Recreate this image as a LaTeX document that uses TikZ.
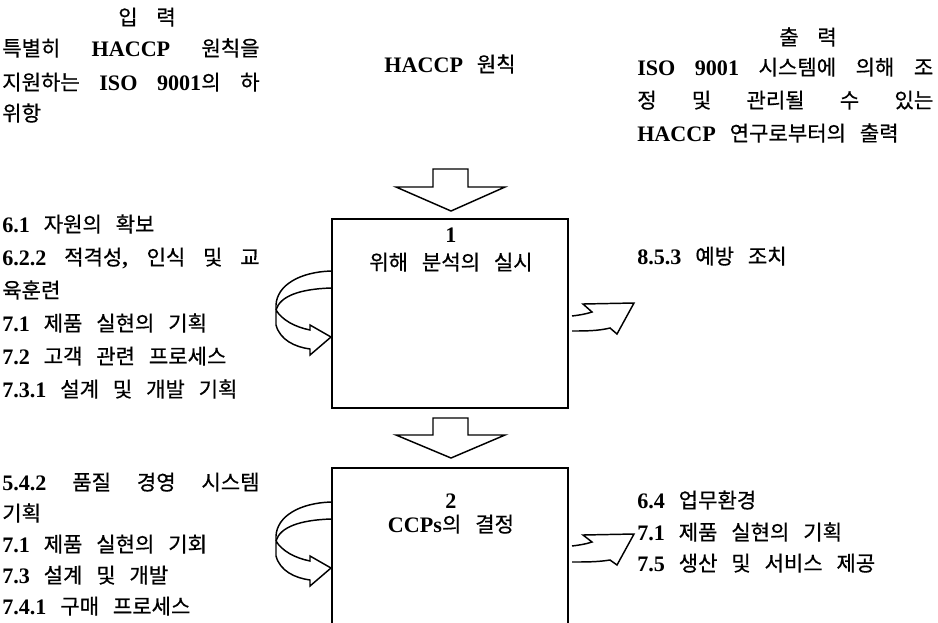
\documentclass[tikz,border=0pt]{standalone}
\usepackage{fontspec}
\setmainfont{Liberation Serif}[WordSpace=2.5, Scale=1.05]
\newfontfamily\krfont{Noto Sans CJK KR}[RawFeature={embolden=0.6}]
\newcommand\K[1]{{\krfont\mdseries #1}}
\newcommand\jl[2]{\makebox[#1][s]{#2}}
\tikzset{
  txt/.style={inner sep=0pt, anchor=base west, font=\fontsize{15.8}{18}\selectfont\bfseries},
  ctxt/.style={txt, anchor=base},
  procbox/.style={draw, line width=1.3pt, inner sep=0pt},
  arrowshape/.style={draw, line width=1.1pt, line join=miter}
}
\begin{document}
\begin{tikzpicture}[x=0.75pt,y=-0.75pt]
\useasboundingbox (0,0) rectangle (938,622);
% headers
\node[ctxt] (inhead) at (147,25) {\K{입}\hspace{14pt}\K{력}};
\node[txt] (in1) at (2,56) {\jl{193pt}{\K{특별히} HACCP \K{원칙을}}};
\node[txt] (in2) at (2,90) {\jl{193pt}{\K{지원하는} ISO 9001\K{의} \K{하}}};
\node[txt] (in3) at (2,121) {\K{위항}};
\node[ctxt] (mid) at (450,72) {HACCP \K{원칙}};
\node[ctxt] (outhead) at (808,45) {\K{출}\hspace{14pt}\K{력}};
\node[txt] (out1) at (637,75) {\jl{222pt}{ISO 9001 \K{시스템에} \K{의해} \K{조}}};
\node[txt] (out2) at (637,108) {\jl{222pt}{\K{정} \K{및} \K{관리될} \K{수} \K{있는}}};
\node[txt] (out3) at (637,141) {HACCP \K{연구로부터의} \K{출력}};
% boxes
\node[procbox, minimum width=177pt, minimum height=141.75pt] (box1) at (450,313.5) {};
\node[procbox, minimum width=177pt, minimum height=136.5pt] (box2) at (450,559) {};
\node[ctxt] (b1num) at (451,242) {1};
\node[ctxt] (b1txt) at (451,270) {\K{위해} \K{분석의} \K{실시}};
\node[ctxt] (b2num) at (451,508) {2};
\node[ctxt] (b2txt) at (451,532) {CCPs\K{의} \K{결정}};
% left texts group 1
\node[txt] (l1a) at (2,232) {6.1 \K{자원의} \K{확보}};
\node[txt] (l1b) at (2,265) {\jl{193pt}{6.2.2 \K{적격성}, \K{인식} \K{및} \K{교}}};
\node[txt] (l1c) at (2,298) {\K{육훈련}};
\node[txt] (l1d) at (2,331) {7.1 \K{제품} \K{실현의} \K{기획}};
\node[txt] (l1e) at (2,364) {7.2 \K{고객} \K{관련} \K{프로세스}};
\node[txt] (l1f) at (2,397) {7.3.1 \K{설계} \K{및} \K{개발} \K{기획}};
% left texts group 2
\node[txt] (l2a) at (2,490) {\jl{193pt}{5.4.2 \K{품질} \K{경영} \K{시스템}}};
\node[txt] (l2b) at (2,521) {\K{기획}};
\node[txt] (l2c) at (2,552) {7.1 \K{제품} \K{실현의} \K{기회}};
\node[txt] (l2d) at (2,583) {7.3 \K{설계} \K{및} \K{개발}};
\node[txt] (l2e) at (2,614) {7.4.1 \K{구매} \K{프로세스}};
% right texts
\node[txt] (r1) at (637,264) {8.5.3 \K{예방} \K{조치}};
\node[txt] (r2a) at (637,508) {6.4 \K{업무환경}};
\node[txt] (r2b) at (637,540) {7.1 \K{제품} \K{실현의} \K{기획}};
\node[txt] (r2c) at (637,571) {7.5 \K{생산} \K{및} \K{서비스} \K{제공}};
% down block arrows
\draw[arrowshape] (433,169) -- (468,169) -- (468,187) -- (505,187) -- (451,211) -- (396,187) -- (433,187) -- cycle;
\draw[arrowshape] (433,418) -- (468,418) -- (468,435) -- (505,435) -- (451,458) -- (396,435) -- (433,435) -- cycle;
% left curved arrows
\foreach \dy in {0,231}{
\begin{scope}[yshift=-\dy*0.75pt]
\draw[arrowshape] (331,271) .. controls (300,272) and (277,285) .. (276,305)
  -- (276,325) .. controls (280,340) and (295,347) .. (310,349)
  -- (310,355) -- (331,337) -- (310,325) -- (310,330)
  .. controls (295,327) and (282,320) .. (276,310);
\draw[arrowshape] (331,288) .. controls (300,289) and (280,296) .. (276,310);
\end{scope}}
% right arrows
\draw[arrowshape] (572,316) .. controls (580,315) and (586,314) .. (592,312) -- (583,304) -- (634,303) -- (617,334) -- (610,328)
  .. controls (598,331) and (585,331) .. (572,331);
\draw[arrowshape] (572,546) .. controls (580,545) and (586,544) .. (592,542) -- (583,535) -- (634,534) -- (617,565) -- (610,560)
  .. controls (598,562) and (585,562) .. (572,562);
\end{tikzpicture}
\end{document}
